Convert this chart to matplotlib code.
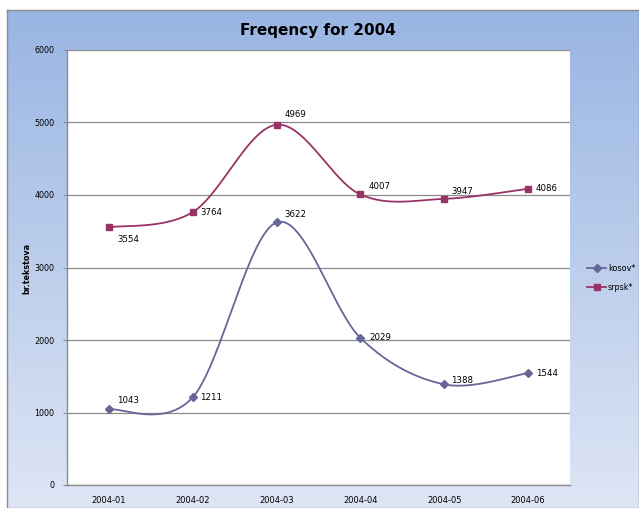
import numpy as np
import matplotlib.pyplot as plt

# data
months = ['2004-01', '2004-02', '2004-03', '2004-04', '2004-05', '2004-06']
kosov = [1043, 1211, 3622, 2029, 1388, 1544]
srpsk = [3554, 3764, 4969, 4007, 3947, 4086]

# label offsets (pixels) for the data labels
kosov_off = [(8, 9), (7, 0), (8, 8), (9, 0), (7, 4), (8, 0)]
srpsk_off = [(8, -12), (8, 0), (8, 10), (8, 8), (7, 7), (7, 0)]

c_kos = '#666699'
c_srp = '#993366'


def smooth(x, y, n=40):
    # catmull-rom curve through the points, like Excel's smoothed line
    x = np.asarray(x, float)
    y = np.asarray(y, float)
    px = np.concatenate([[x[0]], x, [x[-1]]])
    py = np.concatenate([[y[0]], y, [y[-1]]])
    xs, ys = [], []
    t = np.linspace(0, 1, n)
    for i in range(1, len(px) - 2):
        for p, out in ((px, xs), (py, ys)):
            p0, p1, p2, p3 = p[i - 1], p[i], p[i + 1], p[i + 2]
            out.extend(0.5 * ((2 * p1) + (-p0 + p2) * t
                              + (2 * p0 - 5 * p1 + 4 * p2 - p3) * t ** 2
                              + (-p0 + 3 * p1 - 3 * p2 + p3) * t ** 3))
    return np.array(xs), np.array(ys)


fig = plt.figure(figsize=(6.39, 5.08), dpi=100)

# gradient background of the chart area
bg = fig.add_axes([7 / 639, 0, 632 / 639, 498 / 508])
top = np.array([0.60, 0.71, 0.89])
bot = np.array([0.87, 0.90, 0.96])
g = np.linspace(0, 1, 256)[:, None, None]
img = top * (1 - g) + bot * g
img = np.repeat(img, 2, axis=1)
bg.imshow(img, aspect='auto', extent=[0, 1, 0, 1])
bg.set_xticks([])
bg.set_yticks([])
for s in bg.spines.values():
    s.set_color('#8c8c8c')
    s.set_linewidth(1.0)

ax = fig.add_axes([67 / 639, 23 / 508, 503 / 639, 435 / 508])
ax.set_facecolor('white')
x = np.arange(len(months))

for vals, col, mk, ms, lab, offs in ((kosov, c_kos, 'D', 4.5, 'kosov*', kosov_off),
                                      (srpsk, c_srp, 's', 5, 'srpsk*', srpsk_off)):
    sx, sy = smooth(x, vals)
    ax.plot(sx, sy, color=col, lw=1.3, zorder=3)
    ax.plot(x, vals, ls='none', marker=mk, ms=ms, color=col, zorder=4)
    ax.plot([], [], color=col, marker=mk, ms=ms, lw=1.3, label=lab)
    for xi, v, (dx, dy) in zip(x, vals, offs):
        ax.annotate(str(v), (xi, v), xytext=(dx, dy), textcoords='offset pixels',
                    ha='left', va='center', fontsize=6.2, color='black')

ax.set_xlim(-0.5, 5.5)
ax.set_ylim(0, 6000)
ax.set_yticks(np.arange(0, 6001, 1000))
ax.set_xticks(x)
ax.set_xticklabels(months)
ax.tick_params(axis='y', labelsize=5.8, length=3, color='#8c8c8c', pad=6)
ax.tick_params(axis='x', labelsize=6.0, length=0, pad=8)
ax.grid(axis='y', color='#8c8c8c', lw=0.9)
ax.set_axisbelow(True)
for s in ('top', 'right'):
    ax.spines[s].set_visible(False)
for s in ('left', 'bottom'):
    ax.spines[s].set_color('#8c8c8c')
    ax.spines[s].set_linewidth(1.0)

fig.text(318 / 639, 1 - 31 / 508, 'Freqency for 2004', ha='center', va='center',
         fontsize=11, fontweight='bold')
fig.text(27 / 639, 1 - 268 / 508, 'br.tekstova', ha='center', va='center',
         rotation=90, fontsize=5.8, fontweight='bold')

fig.legend(loc='center left', bbox_to_anchor=(580 / 639, 1 - 278 / 508),
           frameon=False, fontsize=5.8, handlelength=2.3, labelspacing=1.3,
           handletextpad=0.25)

fig.savefig('out.png', dpi=100)
